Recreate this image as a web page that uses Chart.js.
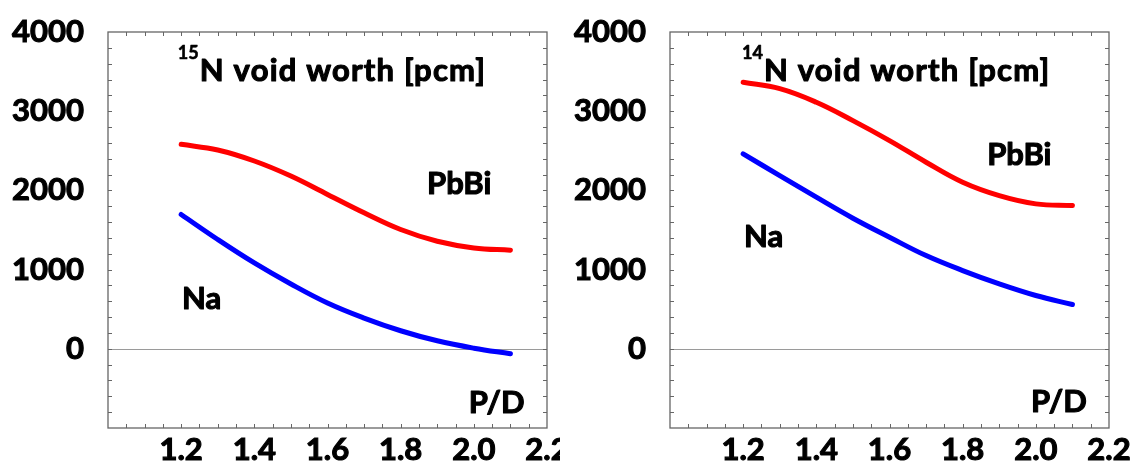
<!DOCTYPE html>
<html>
<head>
<meta charset="utf-8">
<script src="https://cdn.jsdelivr.net/npm/chart.js@4.4.1/dist/chart.umd.min.js"></script>
<style>
  html, body { margin: 0; padding: 0; background: #fff; }
  #wrap { position: relative; width: 1138px; height: 470px; overflow: hidden; }
  .panel { position: absolute; top: 0; height: 470px; }
  #left { left: 0; width: 560px; }
  #right { left: 560px; width: 578px; }
</style>
</head>
<body>
<div id="wrap">
  <div class="panel" id="left"><canvas id="c15"></canvas></div>
  <div class="panel" id="right"><canvas id="c14"></canvas></div>
</div>
<script>
// pitch-to-diameter ratio
const pd = [1.2, 1.3, 1.4, 1.5, 1.6, 1.7, 1.8, 1.9, 2.0, 2.1];

// 15N void worth [pcm]
const pbbi15 = [2582, 2510, 2371, 2181, 1949, 1717, 1506, 1358, 1274, 1245];
const na15 = [1696, 1380, 1084, 818, 578, 388, 228, 101, 8, -63];

// 14N void worth [pcm]
const pbbi14 = [3365, 3285, 3113, 2881, 2629, 2356, 2103, 1934, 1830, 1808];
const na14 = [2461, 2187, 1914, 1649, 1409, 1177, 988, 820, 673, 559];

const xTickLabels = ['1.2', '1.4', '1.6', '1.8', '2.0', '2.2'];
const yTickLabels = ['0', '1000', '2000', '3000', '4000'];

const FONT = 'Lato';
const INK = '#000';
const FRAME = '#666';

function isLabelled(v, labels) {
  return labels.find(l => Math.abs(parseFloat(l) - v) < 1e-6);
}

// heavy text: fill plus a thin stroke of the same colour
function heavyText(ctx, s, x, y) {
  ctx.fillText(s, x, y);
  ctx.strokeText(s, x, y);
}

// frame, inward ticks, zero line and the text labels inside the box
const panelDecor = {
  id: 'panelDecor',
  beforeDatasetsDraw(chart) {
    const { ctx, chartArea: a, scales: { y } } = chart;
    const y0 = Math.round(y.getPixelForValue(0)) + 0.5;
    ctx.save();
    ctx.strokeStyle = '#9a9a9a';
    ctx.lineWidth = 1.2;
    ctx.beginPath();
    ctx.moveTo(a.left, y0);
    ctx.lineTo(a.right, y0);
    ctx.stroke();
    ctx.restore();
  },
  afterDatasetsDraw(chart, args, opts) {
    const { ctx, chartArea: a, scales: { x, y } } = chart;
    ctx.save();
    ctx.strokeStyle = FRAME;
    ctx.lineWidth = 1.3;
    ctx.strokeRect(a.left, a.top, a.right - a.left, a.bottom - a.top);

    ctx.lineWidth = 1;
    ctx.beginPath();
    x.ticks.forEach(t => {
      const px = Math.round(x.getPixelForValue(t.value)) + 0.5;
      if (px <= a.left + 1 || px >= a.right - 1) return;
      ctx.moveTo(px, a.bottom); ctx.lineTo(px, a.bottom - 4);
      ctx.moveTo(px, a.top); ctx.lineTo(px, a.top + 4);
    });
    y.ticks.forEach(t => {
      const py = Math.round(y.getPixelForValue(t.value)) + 0.5;
      if (py <= a.top + 1 || py >= a.bottom - 1) return;
      ctx.moveTo(a.left, py); ctx.lineTo(a.left + 4, py);
      ctx.moveTo(a.right, py); ctx.lineTo(a.right - 4, py);
    });
    ctx.stroke();

    ctx.fillStyle = INK;
    ctx.strokeStyle = INK;
    ctx.lineJoin = 'round';
    ctx.textBaseline = 'alphabetic';
    ctx.textAlign = 'left';
    (opts.notes || []).forEach(n => {
      let px = x.getPixelForValue(n.x);
      const py = y.getPixelForValue(n.y);
      ctx.letterSpacing = '0px';
      if (n.sup) {
        ctx.font = 'bold 18px ' + FONT;
        ctx.lineWidth = 0.6;
        heavyText(ctx, n.sup, px, py - 22);
        px += ctx.measureText(n.sup).width + 1;
      }
      ctx.font = 'bold 31px ' + FONT;
      ctx.lineWidth = 1.1;
      ctx.letterSpacing = (n.spacing || 0) + 'px';
      heavyText(ctx, n.text, px, py);
    });
    ctx.restore();
  }
};

function makePanel(id, pbbi, na, notes, padRight, yWidth) {
  const tickFont = { family: FONT, size: 31, weight: 'bold' };
  const tickStyle = {
    autoSkip: false,
    color: INK,
    font: tickFont,
    textStrokeColor: INK,
    textStrokeWidth: 1.1
  };
  return new Chart(document.getElementById(id), {
    type: 'line',
    data: {
      labels: pd,
      datasets: [
        { label: 'PbBi', data: pd.map((v, i) => ({ x: v, y: pbbi[i] })), borderColor: '#ff0000' },
        { label: 'Na', data: pd.map((v, i) => ({ x: v, y: na[i] })), borderColor: '#0000ff' }
      ]
    },
    options: {
      responsive: true,
      maintainAspectRatio: false,
      animation: false,
      layout: { padding: { top: 32, right: padRight, left: 0, bottom: 0 } },
      elements: {
        point: { radius: 0 },
        line: { borderWidth: 5, tension: 0.4, borderCapStyle: 'round' }
      },
      plugins: {
        legend: { display: false },
        tooltip: { enabled: false },
        panelDecor: { notes }
      },
      scales: {
        x: {
          type: 'linear',
          min: 1.0,
          max: 2.2,
          grid: { display: false, drawTicks: false },
          border: { display: false },
          ticks: {
            ...tickStyle,
            stepSize: 0.05,
            maxRotation: 0,
            padding: 3,
            callback: v => isLabelled(v, xTickLabels) || ''
          },
          afterFit: s => {
            s.height = 42;
            s.paddingLeft = 0; s.paddingRight = 0;
          }
        },
        y: {
          min: -1000,
          max: 4000,
          grid: { display: false, drawTicks: false },
          border: { display: false },
          ticks: {
            ...tickStyle,
            stepSize: 200,
            padding: 24,
            callback: v => isLabelled(v, yTickLabels) || ''
          },
          afterFit: s => {
            s.width = yWidth;
            s.paddingTop = 0; s.paddingBottom = 0;
          }
        }
      }
    },
    plugins: [panelDecor]
  });
}

makePanel('c15', pbbi15, na15, [
  { x: 1.191, y: 3380, sup: '15', text: 'N void worth [pcm]', spacing: 1.2 },
  { x: 1.872, y: 1949, text: 'PbBi' },
  { x: 1.202, y: 506, text: 'Na' },
  { x: 1.986, y: -815, text: 'P/D' }
], 13, 108);

makePanel('c14', pbbi14, na14, [
  { x: 1.197, y: 3382, sup: '14', text: 'N void worth [pcm]', spacing: 1.2 },
  { x: 1.867, y: 2322, text: 'PbBi' },
  { x: 1.202, y: 1287, text: 'Na' },
  { x: 1.987, y: -795, text: 'P/D' }
], 29, 110);
</script>
</body>
</html>
